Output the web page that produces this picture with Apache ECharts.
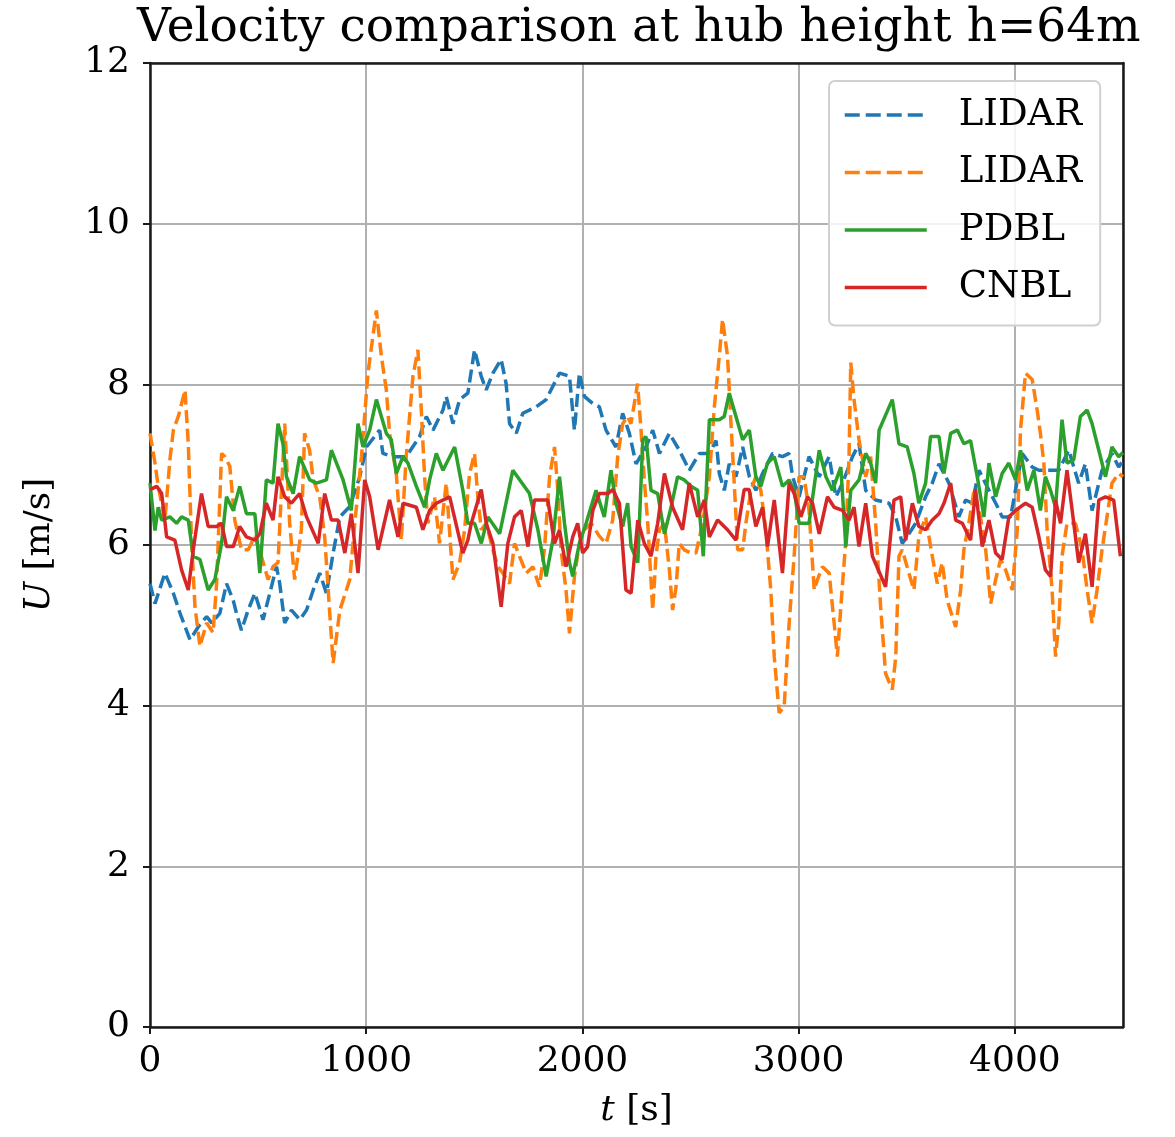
<!DOCTYPE html>
<html><head><meta charset="utf-8">
<script src="https://cdn.jsdelivr.net/npm/echarts@6/dist/echarts.min.js"></script>
<style>html,body{margin:0;padding:0;background:#fff}#c{width:1175px;height:1137px}</style>
</head><body><div id="c"></div><script>
// ---- data ----
const lidarBlueT = [0,23,69,108,139,185,223,262,285,323,354,385,400,423,454,485,523,554,585,600,623,654,693,724,755,785,816,847,878,924,970,1001,1062,1077,1124,1185,1247,1278,1309,1355,1370,1401,1432,1470,1501,1532,1555,1586,1624,1647,1663,1694,1724,1786,1832,1894,1940,1963,1986,2009,2048,2078,2109,2155,2186,2217,2248,2294,2325,2356,2402,2448,2494,2541,2587,2618,2633,2656,2679,2710,2741,2772,2802,2833,2879,2925,2956,2972,3002,3048,3095,3141,3172,3203,3249,3279,3310,3356,3418,3449,3479,3510,3541,3587,3618,3649,3695,3741,3772,3803,3834,3880,3919,3941,3980,4034,4080,4111,4157,4203,4249,4295,4326,4357,4403,4449,4480,4500];
const lidarBlueU = [5.52,5.27,5.65,5.40,5.15,4.82,4.98,5.11,5.03,5.15,5.52,5.31,5.15,4.94,5.19,5.40,5.07,5.40,5.73,5.52,5.03,5.19,5.07,5.19,5.44,5.65,5.40,5.90,6.35,6.48,6.85,7.22,7.43,7.14,7.10,7.10,7.35,7.60,7.43,7.68,7.85,7.51,7.81,7.89,8.43,8.10,7.93,8.14,8.31,8.01,7.51,7.39,7.64,7.72,7.81,8.14,8.10,7.43,8.14,7.85,7.76,7.72,7.43,7.22,7.64,7.39,7.01,7.22,7.43,7.14,7.39,7.18,6.93,7.14,7.14,7.30,6.89,6.68,7.01,6.85,7.22,6.85,6.68,6.89,7.14,7.10,7.14,6.85,6.60,7.10,6.85,7.10,6.60,6.77,7.10,7.26,6.68,6.56,6.52,6.35,6.02,6.14,6.27,6.60,6.77,7.01,6.77,6.35,6.56,6.52,6.93,6.68,6.48,6.35,6.35,7.14,6.97,6.93,6.93,6.93,7.18,6.77,7.01,6.43,6.93,7.14,6.97,7.05];

const lidarOrangeT = [0,23,38,69,92,108,131,162,177,192,208,231,262,292,308,331,346,369,392,423,454,485,515,546,569,592,623,646,669,700,715,738,755,785,808,830,847,878,924,947,978,1008,1047,1070,1093,1108,1139,1162,1185,1216,1239,1254,1270,1285,1316,1339,1370,1401,1432,1455,1478,1501,1516,1532,1555,1586,1609,1632,1663,1686,1709,1740,1771,1801,1824,1848,1871,1886,1901,1924,1940,1963,1986,2009,2040,2078,2109,2140,2163,2186,2209,2224,2240,2255,2271,2286,2302,2325,2340,2356,2379,2402,2417,2433,2448,2471,2502,2525,2556,2587,2610,2633,2648,2671,2687,2702,2718,2741,2756,2779,2802,2825,2848,2871,2887,2910,2933,2956,2979,3002,3025,3048,3072,3087,3110,3141,3164,3179,3195,3218,3233,3241,3256,3279,3310,3333,3356,3379,3402,3433,3449,3464,3479,3510,3533,3556,3587,3618,3641,3664,3687,3726,3749,3764,3787,3811,3841,3865,3888,3911,3934,3957,3988,4011,4026,4049,4080,4103,4118,4134,4149,4172,4188,4203,4218,4241,4280,4311,4334,4357,4380,4403,4426,4449,4480,4500];
const lidarOrangeU = [7.39,7.02,6.73,6.31,7.06,7.43,7.60,7.93,7.26,6.06,5.23,4.74,5.03,4.91,5.52,7.14,7.10,6.98,6.31,5.94,5.94,6.11,5.86,5.57,5.73,5.78,7.51,6.27,5.57,6.19,7.39,7.18,6.81,6.60,6.10,5.20,4.53,5.19,5.57,6.27,7.10,8.14,8.92,8.35,7.93,7.39,6.89,6.06,7.10,8.10,8.43,7.72,6.85,6.27,6.60,6.02,6.77,5.57,5.78,6.19,6.89,7.14,6.60,6.19,6.27,5.94,5.73,5.65,5.52,6.02,5.86,5.65,5.73,5.48,5.94,6.85,7.22,6.68,5.94,5.44,4.90,5.61,6.02,6.19,6.27,6.11,6.02,6.31,7.10,7.51,7.60,7.51,7.76,8.01,7.43,6.81,6.27,5.19,5.86,6.19,6.27,5.69,5.19,5.48,6.02,5.94,5.90,5.90,6.27,6.85,7.72,8.35,8.81,8.35,7.51,6.77,5.94,5.94,6.27,6.68,6.85,6.68,6.19,5.44,4.61,3.91,3.99,5.03,5.86,6.85,6.85,6.43,5.44,5.57,5.73,5.65,5.03,4.61,5.23,6.06,7.10,8.27,7.81,7.31,6.85,7.10,6.27,5.23,4.40,4.20,4.61,5.86,5.94,5.65,5.44,6.11,6.35,5.86,5.52,5.78,5.31,4.98,5.44,5.94,6.27,6.68,6.35,5.94,5.27,5.57,5.82,5.69,5.44,6.19,7.43,8.14,8.06,7.68,7.39,7.02,6.19,5.44,4.61,5.03,5.86,6.27,6.27,5.94,5.44,5.03,5.44,5.94,6.35,6.77,6.89,6.85];

const pdblT = [0,23,38,54,92,123,146,177,200,231,269,300,331,354,385,415,446,485,508,538,569,592,615,631,662,692,739,770,816,839,893,931,962,985,1016,1047,1070,1093,1116,1139,1170,1193,1232,1270,1293,1324,1355,1409,1447,1470,1501,1532,1563,1617,1678,1755,1794,1832,1863,1894,1917,1940,1955,1986,2017,2063,2101,2132,2155,2186,2209,2225,2256,2279,2294,2317,2348,2379,2410,2440,2471,2502,2533,2559,2587,2633,2656,2679,2710,2741,2772,2802,2825,2856,2887,2925,2956,2979,3002,3048,3095,3126,3156,3195,3218,3241,3279,3310,3333,3356,3372,3433,3464,3502,3533,3556,3587,3610,3649,3672,3703,3734,3764,3795,3826,3857,3880,3911,3941,3972,4003,4026,4057,4088,4118,4141,4165,4188,4218,4241,4272,4303,4334,4357,4388,4419,4449,4480,4500];
const pdblU = [6.77,6.18,6.47,6.31,6.35,6.27,6.35,6.31,5.86,5.82,5.44,5.57,6.02,6.60,6.43,6.73,6.39,6.39,5.65,6.81,6.77,7.51,7.26,6.85,6.64,7.10,6.81,6.77,6.81,7.18,6.81,6.43,7.51,7.22,7.43,7.81,7.60,7.39,7.31,6.89,7.10,7.02,6.73,6.47,6.81,7.14,6.93,7.22,6.68,6.27,6.27,6.02,6.35,6.14,6.93,6.64,6.19,5.61,6.06,6.85,6.27,5.78,5.61,6.02,6.27,6.68,6.35,6.93,6.52,6.23,6.52,5.98,5.78,7.31,7.35,6.68,6.64,6.14,6.47,6.85,6.81,6.73,6.68,5.86,7.56,7.56,7.60,7.89,7.60,7.31,7.43,6.85,6.73,7.02,7.10,6.73,6.81,6.68,6.27,6.27,7.18,6.85,6.68,6.97,5.98,6.68,6.81,7.14,7.02,6.77,7.43,7.81,7.26,7.22,6.89,6.52,6.77,7.35,7.35,6.89,7.39,7.43,7.26,7.30,6.85,6.35,7.02,6.60,6.89,7.02,6.81,7.18,6.68,6.93,6.43,6.85,6.68,6.47,7.56,7.02,7.06,7.60,7.68,7.51,7.18,6.85,7.22,7.10,7.15];

const cnblT = [0,31,54,77,115,146,177,200,238,269,308,331,354,385,415,446,485,508,538,569,592,623,654,692,724,778,808,839,870,901,931,962,993,1016,1055,1108,1147,1170,1232,1262,1293,1324,1386,1447,1470,1486,1532,1555,1586,1624,1655,1686,1717,1748,1778,1840,1871,1894,1924,1955,1978,2001,2024,2048,2078,2117,2140,2171,2201,2225,2256,2286,2317,2348,2379,2417,2463,2494,2533,2564,2587,2625,2671,2710,2748,2771,2802,2833,2856,2887,2925,2956,2979,3010,3041,3064,3095,3133,3164,3203,3233,3256,3279,3310,3341,3402,3441,3472,3495,3526,3556,3587,3618,3649,3672,3703,3726,3757,3795,3818,3849,3880,3911,3941,3972,4003,4049,4080,4111,4141,4165,4188,4211,4241,4265,4295,4326,4357,4388,4419,4457,4488];
const cnblU = [6.69,6.73,6.64,6.10,6.06,5.69,5.44,5.94,6.64,6.23,6.23,6.27,5.98,5.98,6.23,6.10,6.06,6.14,6.52,6.31,6.85,6.60,6.52,6.64,6.35,6.02,6.64,6.31,6.31,5.90,6.39,5.65,6.81,6.60,5.94,6.56,6.10,6.52,6.47,6.19,6.43,6.52,6.60,5.90,6.06,6.27,6.69,6.27,6.02,5.23,6.02,6.35,6.43,5.98,6.56,6.56,6.02,6.19,5.73,6.10,6.27,5.90,5.98,6.43,6.64,6.64,6.69,6.52,5.44,5.40,6.31,6.02,5.86,6.27,6.89,6.47,6.19,6.77,6.35,6.56,6.10,6.31,6.19,6.06,6.69,6.69,6.23,6.47,5.98,6.56,5.65,6.77,6.64,6.35,6.60,6.52,6.14,6.60,6.47,6.43,6.31,6.47,5.98,6.52,5.86,5.48,6.56,6.60,6.06,6.52,6.23,6.19,6.31,6.39,6.52,6.77,6.31,6.27,6.06,6.69,5.98,6.31,5.90,5.82,6.35,6.43,6.52,6.47,6.10,5.69,5.61,6.56,6.27,6.93,6.43,5.78,6.14,5.48,6.56,6.60,6.56,5.86];

const seriesNames = ['LIDAR', 'LIDAR', 'PDBL', 'CNBL'];
const seriesColors = ['#1f77b4', '#ff7f0e', '#2ca02c', '#d62728'];
const xTicks = [0, 1000, 2000, 3000, 4000];
const yTicks = [0, 2, 4, 6, 8, 10, 12];

// ---- chart ----
const FONT = 'DejaVu Serif';
const pairs = (T, U) => T.map((t, i) => [t, U[i]]);
const datasets = [pairs(lidarBlueT, lidarBlueU), pairs(lidarOrangeT, lidarOrangeU), pairs(pdblT, pdblU), pairs(cnblT, cnblU)];
const dashed = [true, true, false, false];
const ids = ['s0', 's1', 's2', 's3'];
const SPINE = '#1a1a1a';
const nameStyle = {fontFamily: FONT, fontSize: 36, color: '#000', rich: {it: {fontFamily: FONT, fontSize: 36, fontStyle: 'italic', color: '#000'}}};

const chart = echarts.init(document.getElementById('c'), null, {renderer: 'canvas'});
chart.setOption({
  animation: false,
  backgroundColor: '#fff',
  title: {
    text: 'Velocity comparison at hub height h=64m',
    left: 132, top: 0,
    textStyle: {fontFamily: FONT, fontSize: 47, fontWeight: 'normal', color: '#000'}
  },
  legend: {
    orient: 'vertical',
    left: 829, top: 81,
    data: ids.map((id, i) => ({
      name: id,
      lineStyle: {color: seriesColors[i], width: 3.5, type: dashed[i] ? [15, 6] : 'solid'}
    })),
    itemWidth: 82, itemHeight: 14, itemGap: 17.5,
    padding: [14, 18, 18, 14],
    backgroundColor: 'rgba(255,255,255,0.85)',
    borderColor: '#d0d0d0', borderWidth: 2, borderRadius: 6,
    itemStyle: {opacity: 0},
    lineStyle: {width: 3.5},
    formatter: (n) => seriesNames[ids.indexOf(n)],
    textStyle: {fontFamily: FONT, fontSize: 37, color: '#000', lineHeight: 40, padding: [0, 0, 0, 27]}
  },
  grid: {left: 150, right: 52, top: 63, bottom: 110},
  xAxis: [{
    type: 'value', min: 0, max: 4500, interval: 1000,
    name: '{it|t} [s]', nameLocation: 'middle', nameGap: 66,
    nameTextStyle: nameStyle,
    axisLine: {show: true, onZero: false, lineStyle: {color: SPINE, width: 2.5}},
    axisTick: {show: true, length: 7, lineStyle: {color: SPINE, width: 2}},
    axisLabel: {fontFamily: FONT, fontSize: 36, color: '#000', margin: 17, showMaxLabel: false,
      formatter: (v) => xTicks.includes(v) ? String(v) : ''},
    splitLine: {show: true, lineStyle: {color: '#b0b0b0', width: 2}}
  }, {
    type: 'value', position: 'top', min: 0, max: 4500, interval: 1000,
    axisLine: {show: true, onZero: false, lineStyle: {color: SPINE, width: 2.5}},
    axisTick: {show: false}, axisLabel: {show: false}, splitLine: {show: false}
  }],
  yAxis: [{
    type: 'value', min: 0, max: 12, interval: 2,
    name: '{it|U} [m/s]', nameLocation: 'middle', nameGap: 92, nameRotate: 90,
    nameTextStyle: nameStyle,
    axisLine: {show: true, onZero: false, lineStyle: {color: SPINE, width: 2.5}},
    axisTick: {show: true, length: 7, lineStyle: {color: SPINE, width: 2}},
    axisLabel: {fontFamily: FONT, fontSize: 36, color: '#000', margin: 20,
      formatter: (v) => yTicks.includes(v) ? String(v) : ''},
    splitLine: {show: true, lineStyle: {color: '#b0b0b0', width: 2}}
  }, {
    type: 'value', position: 'right', min: 0, max: 12, interval: 2,
    axisLine: {show: true, onZero: false, lineStyle: {color: SPINE, width: 2.5}},
    axisTick: {show: false}, axisLabel: {show: false}, splitLine: {show: false}
  }],
  series: datasets.map((d, i) => ({
    type: 'line', name: ids[i], data: d, xAxisIndex: 0, yAxisIndex: 0,
    symbol: 'none', showSymbol: false,
    lineStyle: {color: seriesColors[i], width: 3.5, type: dashed[i] ? [13, 5.5] : 'solid'},
    itemStyle: {color: seriesColors[i]},
    z: 2 + i
  }))
});
</script></body></html>
